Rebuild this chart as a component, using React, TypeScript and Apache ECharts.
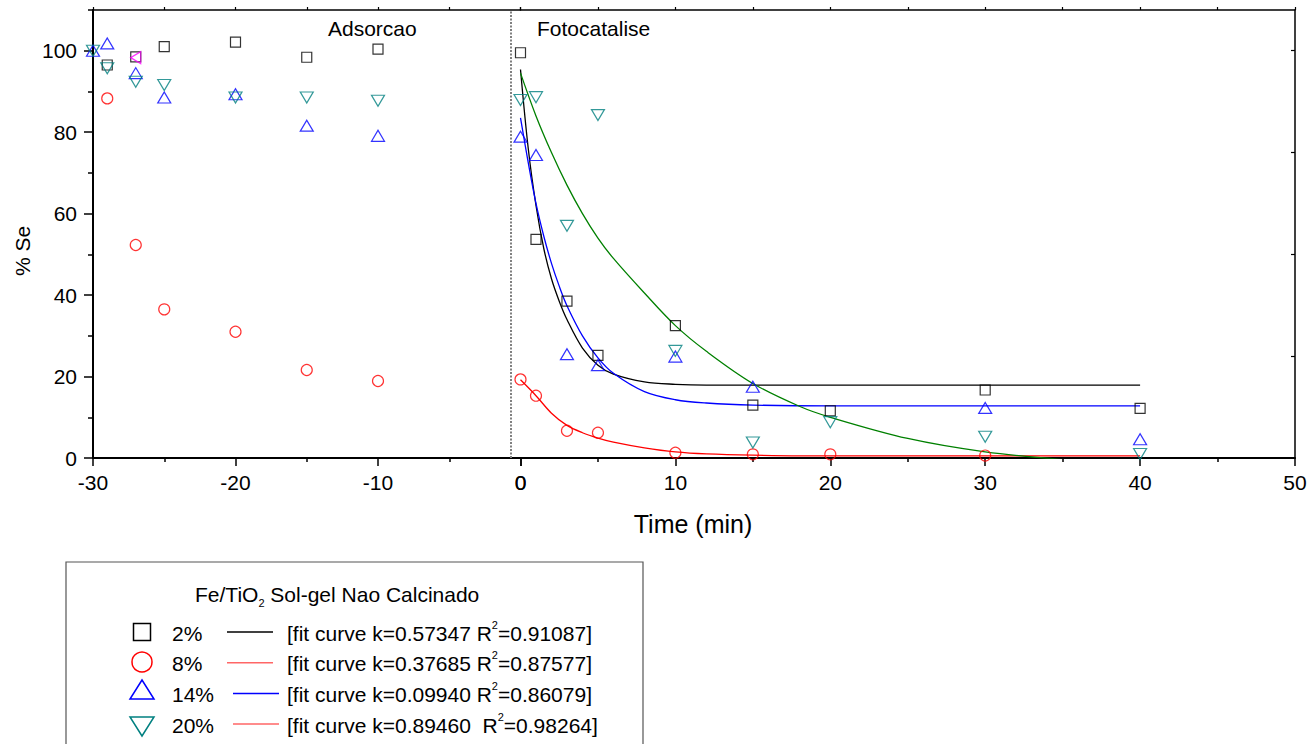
import React, { useEffect, useRef } from 'react';
import * as echarts from 'echarts';

const FONT = '"Liberation Sans", Arial, Helvetica, sans-serif';

// ---------- data ----------
// Adsorption stage (dark), time in min
const adsTime = [-30, -29, -27, -25, -20, -15, -10];
const ads2 = [null, 96.5, 98.5, 101.0, 102.1, 98.4, 100.4];
const ads8 = [null, 88.3, 52.3, 36.5, 31.0, 21.6, 18.9];
const ads14 = [100, 101.8, 94.5, 88.5, 89.3, 81.6, 79.1];
const ads20 = [100, 95.7, 92.4, 91.6, 88.5, 88.5, 87.7];
const oddTime = [-27];
const oddValue = [98.3];
const separatorX = -0.7;

// Photocatalysis stage
const photoTime = [0, 1, 3, 5, 10, 15, 20, 30, 40];
const photo2 = [99.5, 53.7, 38.5, 25.2, 32.5, 13.0, 11.6, 16.7, 12.2];
const photo8 = [19.3, 15.3, 6.7, 6.2, 1.3, 0.9, 0.9, 0.6, null];
const photo14 = [78.9, 74.4, 25.5, 22.8, 24.9, 17.5, null, 12.3, 4.6];
const photo20 = [87.9, 88.6, 57.0, 84.2, 26.3, 3.8, 8.8, 5.2, 1.0];

// Fit curves
const fit2X = [0, 0.5, 1, 1.5, 2, 2.5, 3, 4, 5, 6, 8, 10, 12, 15, 20, 40];
const fit2Y = [95.4, 76, 62, 51.5, 44, 38.5, 34, 27, 22.8, 20.6, 18.7, 18.1, 17.9, 17.9, 17.9, 17.9];
const fit8X = [0, 1, 2, 3, 4, 5, 6, 8, 10, 12, 15, 20, 40];
const fit8Y = [19.2, 15.3, 11.0, 8.0, 6.2, 4.9, 3.9, 2.5, 1.5, 1.0, 0.7, 0.5, 0.5];
const fit14X = [0, 0.5, 1, 1.5, 2, 2.5, 3, 4, 5, 6, 8, 10, 12, 15, 20, 40];
const fit14Y = [83.5, 72.5, 62.5, 54.5, 47.8, 42.2, 37.4, 30.0, 24.6, 20.8, 16.3, 14.3, 13.5, 13.0, 12.8, 12.8];
const fit20X = [0, 1, 2, 3, 4, 5, 6, 8, 10, 12, 15, 18, 20, 25, 30, 35];
const fit20Y = [94.5, 84, 75, 67, 60, 54, 49, 40.5, 32.5, 26.2, 18.3, 12.7, 10.0, 4.8, 1.5, -0.4];

const yMajor = [0, 20, 40, 60, 80, 100];
const yMinor = [10, 30, 50, 70, 90, 110];
const yRightTicks = [25, 50, 75, 100];

const legendRows = [
  { pct: '2%', k: '0.57347', r2: '0.91087', sep: ' ' },
  { pct: '8%', k: '0.37685', r2: '0.87577', sep: ' ' },
  { pct: '14%', k: '0.09940', r2: '0.86079', sep: ' ' },
  { pct: '20%', k: '0.89460', r2: '0.98264', sep: '  ' },
];

// ---------- helpers ----------
const zip = (xs: number[], ys: (number | null)[]) =>
  xs.map((x, i) => [x, ys[i]]).filter((p) => p[1] !== null && p[1] !== undefined);

const C_BLACK = '#000000';
const C_RED = '#FF0000';
const C_BLUE = '#0000FF';
const C_TEAL = '#008080';
const C_GREEN = '#008000';

const hollow = (c: string) => ({ color: 'rgba(255,255,255,0)', borderColor: c, borderWidth: 1.2 });

function scatter(name: string, data: any[], xi: number, yi: number, symbol: string, size: any, c: string, rotate = 0, extra: any = {}) {
  return {
    name,
    type: 'scatter',
    xAxisIndex: xi,
    yAxisIndex: yi,
    data,
    symbol,
    symbolSize: size,
    symbolRotate: rotate,
    itemStyle: hollow(c),
    z: 5,
    silent: true,
    ...extra,
  };
}

function fitLine(name: string, data: any[], c: string) {
  return {
    name,
    type: 'line',
    xAxisIndex: 2,
    yAxisIndex: 2,
    data,
    showSymbol: false,
    symbol: 'none',
    smooth: 0.35,
    clip: true,
    lineStyle: { color: c, width: 1.3 },
    z: 3,
    silent: true,
  };
}

const axisLineStyle = (w: number) => ({ show: true, onZero: false, lineStyle: { color: '#000', width: w } });

export default function App() {
  const ref = useRef<HTMLDivElement>(null);

  useEffect(() => {
    document.body.style.margin = '0';
    if (!ref.current) return;
    const chart = echarts.init(ref.current, undefined, { renderer: 'svg' });

    const bottomX = (grid: number, min: number, max: number) => ({
      gridIndex: grid,
      type: 'value',
      position: 'bottom',
      min,
      max,
      interval: 10,
      axisLine: axisLineStyle(2),
      axisTick: { show: true, inside: false, length: 8, lineStyle: { color: '#000', width: 1.5 } },
      minorTick: { show: true, splitNumber: 2, length: 4, lineStyle: { color: '#000', width: 1.5 } },
      axisLabel: { show: true, fontSize: 21, color: '#000', fontFamily: FONT, margin: 14 },
      splitLine: { show: false },
      minorSplitLine: { show: false },
    });
    const topX = (grid: number, min: number, max: number) => ({
      gridIndex: grid,
      type: 'value',
      position: 'top',
      min,
      max,
      interval: 5,
      axisLine: axisLineStyle(1.5),
      axisTick: { show: true, inside: false, length: 3, lineStyle: { color: '#000', width: 1.2 } },
      axisLabel: { show: false },
      splitLine: { show: false },
    });

    const row = (i: number) => 633 + i * 30.7;
    const legendGraphic: any[] = [
      {
        type: 'rect',
        shape: { x: 66, y: 562, width: 577, height: 200 },
        style: { fill: '#fff', stroke: '#555', lineWidth: 1.2 },
        z: 1,
      },
      {
        type: 'text',
        x: 195,
        y: 594,
        z: 2,
        style: {
          text: '{n|Fe/TiO}{sub|2}{n| Sol-gel Nao Calcinado}',
          textVerticalAlign: 'middle',
          textAlign: 'left',
          fill: '#000',
          rich: {
            n: { fontSize: 21, fontFamily: FONT, lineHeight: 28, verticalAlign: 'middle', fill: '#000' },
            sub: { fontSize: 11, fontFamily: FONT, lineHeight: 5, verticalAlign: 'bottom', fill: '#000' },
          },
        },
      },
      {
        type: 'rect',
        shape: { x: 133.5, y: 623.5, width: 17, height: 17 },
        style: { fill: 'none', stroke: C_BLACK, lineWidth: 1.5 },
        z: 2,
      },
      {
        type: 'circle',
        shape: { cx: 142, cy: 662, r: 10 },
        style: { fill: 'none', stroke: C_RED, lineWidth: 1.5 },
        z: 2,
      },
      {
        type: 'polygon',
        shape: { points: [[130, 699], [154, 699], [142, 680]] },
        style: { fill: 'none', stroke: C_BLUE, lineWidth: 1.5 },
        z: 2,
      },
      {
        type: 'polygon',
        shape: { points: [[130, 717], [154, 717], [142, 736]] },
        style: { fill: 'none', stroke: C_TEAL, lineWidth: 1.5 },
        z: 2,
      },
    ];
    const legendLineColors = [C_BLACK, '#FF6666', C_BLUE, '#FF6666'];
    const legendLineX = [[227, 273], [227, 273], [233, 279], [233, 279]];
    legendRows.forEach((r, i) => {
      legendGraphic.push({
        type: 'text',
        x: 172,
        y: row(i),
        z: 2,
        style: { text: r.pct, fontSize: 21, fontFamily: FONT, fill: '#000', textVerticalAlign: 'middle' },
      });
      legendGraphic.push({
        type: 'line',
        shape: { x1: legendLineX[i][0], y1: row(i) - 1, x2: legendLineX[i][1], y2: row(i) - 1 },
        style: { stroke: legendLineColors[i], lineWidth: 1.5 },
        z: 2,
      });
      legendGraphic.push({
        type: 'text',
        x: 287,
        y: row(i),
        z: 2,
        style: {
          text: `{n|[fit curve k=${r.k}${r.sep}R}{sup|2}{n|=${r.r2}]}`,
          textVerticalAlign: 'middle',
          fill: '#000',
          rich: {
            n: { fontSize: 21, fontFamily: FONT, lineHeight: 28, verticalAlign: 'middle', fill: '#000' },
            sup: { fontSize: 11, fontFamily: FONT, lineHeight: 18, verticalAlign: 'top', fill: '#000' },
          },
        },
      });
    });

    const option: any = {
      animation: false,
      backgroundColor: '#fff',
      textStyle: { fontFamily: FONT },
      grid: [
        { left: 93, top: 10, width: 427.5, height: 448, containLabel: false },
        { left: 520.5, top: 10, width: 774.5, height: 448, containLabel: false },
      ],
      xAxis: [bottomX(0, -30, 0), topX(0, -30, 0), bottomX(1, 0, 50), topX(1, 0, 50)],
      yAxis: [
        {
          gridIndex: 0,
          type: 'value',
          position: 'left',
          min: 0,
          max: 110,
          interval: 10,
          axisLine: axisLineStyle(2),
          axisTick: { show: true, length: 9, customValues: yMajor, lineStyle: { color: '#000', width: 1.5 } },
          axisLabel: {
            show: true,
            customValues: yMajor,
            fontSize: 21,
            color: '#000',
            fontFamily: FONT,
            margin: 16,
            formatter: (v: number) => (yMajor.indexOf(v) >= 0 ? String(v) : ''),
          },
          splitLine: { show: false },
        },
        {
          gridIndex: 0,
          type: 'value',
          position: 'left',
          min: 0,
          max: 110,
          interval: 10,
          axisLine: { show: false, onZero: false },
          axisTick: { show: true, length: 5, customValues: yMinor, lineStyle: { color: '#000', width: 1.5 } },
          axisLabel: { show: false },
          splitLine: { show: false },
        },
        {
          gridIndex: 1,
          type: 'value',
          position: 'left',
          min: 0,
          max: 110,
          interval: 10,
          axisLine: { show: false, onZero: false },
          axisTick: { show: false },
          axisLabel: { show: false },
          splitLine: { show: false },
        },
        {
          gridIndex: 1,
          type: 'value',
          position: 'right',
          min: 0,
          max: 110,
          interval: 25,
          axisLine: axisLineStyle(1.5),
          axisTick: { show: true, inside: true, length: 4, customValues: yRightTicks, lineStyle: { color: '#000', width: 1.2 } },
          axisLabel: { show: false },
          splitLine: { show: false },
        },
      ],
      graphic: [
        {
          type: 'text',
          x: 328,
          y: 28,
          style: { text: 'Adsorcao', fontSize: 21, fontFamily: FONT, fill: '#000', textVerticalAlign: 'middle' },
        },
        {
          type: 'text',
          x: 537,
          y: 28,
          style: { text: 'Fotocatalise', fontSize: 21, fontFamily: FONT, fill: '#000', textVerticalAlign: 'middle' },
        },
        {
          type: 'text',
          x: 693,
          y: 524,
          style: { text: 'Time (min)', fontSize: 25, fontFamily: FONT, fill: '#000', textAlign: 'center', textVerticalAlign: 'middle' },
        },
        {
          type: 'text',
          x: 22,
          y: 251,
          rotation: Math.PI / 2,
          style: { text: '% Se', fontSize: 21, fontFamily: FONT, fill: '#000', textAlign: 'center', textVerticalAlign: 'middle' },
        },
        ...legendGraphic,
      ],
      series: [
        scatter('2%', zip(adsTime, ads2), 0, 0, 'rect', 10, C_BLACK, 0, {
          markLine: {
            silent: true,
            symbol: ['none', 'none'],
            label: { show: false },
            lineStyle: { color: '#808080', type: [2, 1.5], width: 2 },
            data: [{ xAxis: separatorX }],
          },
        }),
        scatter('8%', zip(adsTime, ads8), 0, 0, 'circle', 11, C_RED),
        scatter('14%', zip(adsTime, ads14), 0, 0, 'triangle', [13, 11], C_BLUE),
        scatter('20%', zip(adsTime, ads20), 0, 0, 'triangle', [13, 11], C_TEAL, 180),
        scatter('extra', zip(oddTime, oddValue), 0, 0, 'triangle', [12, 10], '#FF00FF', 90),
        fitLine('fit 2%', zip(fit2X, fit2Y), C_BLACK),
        fitLine('fit 8%', zip(fit8X, fit8Y), C_RED),
        fitLine('fit 14%', zip(fit14X, fit14Y), C_BLUE),
        fitLine('fit 20%', zip(fit20X, fit20Y), C_GREEN),
        scatter('2% ', zip(photoTime, photo2), 2, 2, 'rect', 10, C_BLACK),
        scatter('8% ', zip(photoTime, photo8), 2, 2, 'circle', 11, C_RED),
        scatter('14% ', zip(photoTime, photo14), 2, 2, 'triangle', [13, 11], C_BLUE),
        scatter('20% ', zip(photoTime, photo20), 2, 2, 'triangle', [13, 11], C_TEAL, 180),
      ],
    };

    chart.setOption(option);
    return () => chart.dispose();
  }, []);

  return <div ref={ref} style={{ width: 1311, height: 744 }} />;
}
